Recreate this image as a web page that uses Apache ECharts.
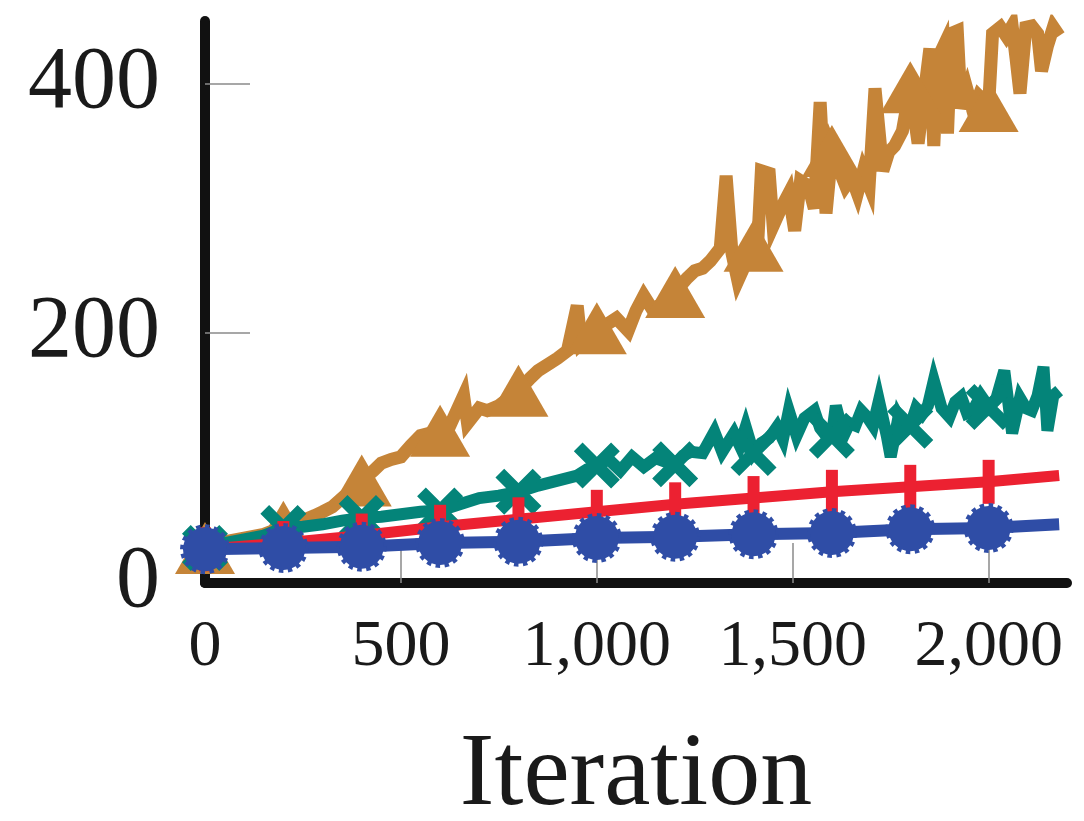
<!DOCTYPE html>
<html>
<head>
<meta charset="utf-8">
<script src="https://cdn.jsdelivr.net/npm/echarts@6/dist/echarts.min.js"></script>
<style>
  html, body { margin: 0; padding: 0; background: #fff; }
  #chart { width: 1084px; height: 821px; }
</style>
</head>
<body>
<div id="chart"></div>
<script>
// tick values
const xTicks = [0, 500, 1000, 1500, 2000]
const yTicks = [0, 200, 400]
const xName = 'Iteration'

// series: [iteration, value]
const orangeData = [
  [0, 28], [50, 33], [100, 36], [150, 39], [200, 45], [250, 50], [280, 54], [300, 57], [325, 61],
  [350, 68], [400, 82], [430, 90], [450, 96], [475, 99], [500, 101], [525, 110], [550, 118], [600, 122],
  [625, 126], [660, 150], [670, 128], [700, 140], [720, 138], [750, 142], [800, 154], [830, 164], [850, 170],
  [880, 176], [900, 180], [925, 186], [950, 222], [960, 192], [1000, 204], [1030, 208], [1050, 212], [1080, 202],
  [1100, 218], [1120, 230], [1140, 220], [1160, 222], [1200, 233], [1230, 244], [1250, 250], [1270, 252],
  [1290, 258], [1315, 268], [1330, 326], [1345, 264], [1360, 242], [1400, 270], [1410, 268], [1420, 330],
  [1440, 328], [1450, 286], [1470, 300], [1490, 312], [1505, 282], [1520, 322], [1540, 318],
  [1555, 300], [1570, 385], [1585, 296], [1600, 346], [1620, 330], [1635, 318], [1650, 325],
  [1665, 312], [1680, 330], [1695, 318], [1710, 396], [1730, 330], [1745, 345], [1760, 350],
  [1780, 362], [1800, 397], [1820, 352], [1835, 390], [1850, 428], [1860, 350], [1870, 420],
  [1885, 430], [1895, 360], [1905, 440], [1920, 442], [1930, 380], [1945, 395], [1960, 378],
  [1975, 390], [2000, 382], [2010, 440], [2030, 445], [2045, 438], [2060, 446], [2070, 420],
  [2080, 392], [2095, 445], [2110, 446], [2125, 440], [2135, 410], [2150, 430], [2165, 445], [2180, 438]
]
const tealData = [
  [0, 28], [50, 32], [100, 35], [150, 38], [200, 44], [250, 45], [300, 47], [350, 50],
  [400, 52], [450, 53], [500, 55], [550, 57], [600, 58], [650, 63], [700, 68], [750, 70],
  [800, 73], [850, 78], [900, 82], [950, 86], [975, 91], [1000, 94], [1030, 99], [1060, 90],
  [1090, 101], [1120, 93], [1150, 100], [1175, 97], [1200, 95], [1220, 102], [1240, 105], [1270, 104],
  [1300, 121], [1320, 105], [1350, 120], [1365, 110], [1380, 125], [1400, 104], [1420, 112], [1440, 116],
  [1460, 125], [1475, 115], [1490, 138], [1510, 118], [1530, 132], [1555, 138], [1570, 124], [1580, 120],
  [1600, 118], [1610, 142], [1630, 118], [1645, 128], [1660, 126], [1675, 138], [1690, 133], [1705, 126],
  [1720, 146], [1740, 118], [1750, 101], [1770, 133], [1785, 124], [1800, 126], [1815, 140], [1830, 135],
  [1845, 142], [1860, 162], [1880, 140], [1900, 133], [1915, 145], [1930, 149], [1945, 136], [1960, 138],
  [1980, 150], [2000, 141], [2020, 148], [2040, 170], [2060, 120], [2080, 148], [2095, 140], [2110, 138],
  [2125, 150], [2140, 173], [2150, 122], [2165, 150], [2180, 154]
]
const redData = [
  [0, 27], [200, 32], [400, 38], [600, 45], [800, 51], [1000, 57], [1200, 63],
  [1400, 68], [1600, 73], [1800, 77], [2000, 81], [2180, 86]
]
const blueData = [
  [0, 27], [200, 28], [400, 29], [600, 32], [800, 33], [1000, 36], [1200, 37],
  [1400, 39], [1600, 40], [1800, 43], [2000, 44], [2180, 47]
]

const markStep = 200

// marker shapes
const crossPath = 'path://M0 19 L19 0 L50 31 L81 0 L100 19 L69 50 L100 81 L81 100 L50 69 L19 100 L0 81 L31 50 Z'
function gearPath(teeth) {
  let d = ''
  for (let i = 0; i < teeth; i++) {
    const a = (i / teeth) * Math.PI * 2
    const h = Math.PI / teeth
    const pts = [[50, a], [50, a + h], [44, a + h], [44, a + 2 * h]]
    pts.forEach(([r, t], k) => {
      const x = (50 + r * Math.cos(t)).toFixed(2)
      const y = (50 + r * Math.sin(t)).toFixed(2)
      d += (i === 0 && k === 0 ? 'M' : 'L') + x + ' ' + y + ' '
    })
  }
  return 'path://' + d + 'Z'
}

const marks = data => data.filter(p => p[0] % markStep === 0 && p[0] <= 2000)

const font = 'Liberation Serif, Times New Roman, serif'

const lineSeries = (data, color, width, z) => ({
  type: 'line',
  data: data,
  showSymbol: false,
  z: z,
  lineStyle: { color: color, width: width, join: 'miter', miterLimit: 5 }
})
const markSeries = (data, color, symbol, size, z) => ({
  type: 'scatter',
  data: marks(data),
  symbol: symbol,
  symbolSize: size,
  z: z,
  itemStyle: { color: color, opacity: 1 }
})

const chart = echarts.init(document.getElementById('chart'))
chart.setOption({
  animation: false,
  grid: { left: 205, right: 17, top: 21, bottom: 238, containLabel: false, outerBoundsMode: 'none' },
  xAxis: {
    type: 'value',
    min: 0,
    max: 2200,
    interval: 500,
    name: xName,
    nameLocation: 'middle',
    nameGap: 142,
    nameTextStyle: { fontFamily: font, fontSize: 104, color: '#1a1a1a' },
    axisLine: { lineStyle: { color: '#111', width: 10 } },
    axisTick: { inside: true, length: 40, customValues: xTicks.slice(1), lineStyle: { color: '#8a8a8a', width: 1.5 } },
    axisLabel: {
      customValues: xTicks,
      margin: 32,
      fontFamily: font,
      fontSize: 66,
      color: '#1a1a1a',
      formatter: v => v.toLocaleString('en-US')
    },
    splitLine: { show: false }
  },
  yAxis: {
    type: 'value',
    min: 0,
    max: 450,
    interval: 200,
    axisLine: { lineStyle: { color: '#111', width: 10 } },
    axisTick: { inside: true, length: 45, customValues: yTicks.slice(1), lineStyle: { color: '#8a8a8a', width: 1.5 } },
    axisLabel: {
      customValues: yTicks,
      margin: 45,
      fontFamily: font,
      fontSize: 88,
      color: '#1a1a1a',
      padding: [8, 0, 0, 0]
    },
    splitLine: { show: false }
  },
  series: [
    lineSeries(orangeData, '#C58438', 13, 1),
    markSeries(orangeData, '#C58438', 'triangle', [60, 52], 2),
    lineSeries(tealData, '#048479', 12, 3),
    markSeries(tealData, '#048479', crossPath, 46, 4),
    lineSeries(redData, '#EC2131', 11, 5),
    markSeries(redData, '#EC2131', 'rect', [12, 44], 6),
    lineSeries(blueData, '#2F4DA6', 12, 7),
    markSeries(blueData, '#2F4DA6', gearPath(16), 50, 8)
  ]
})
</script>
</body>
</html>
